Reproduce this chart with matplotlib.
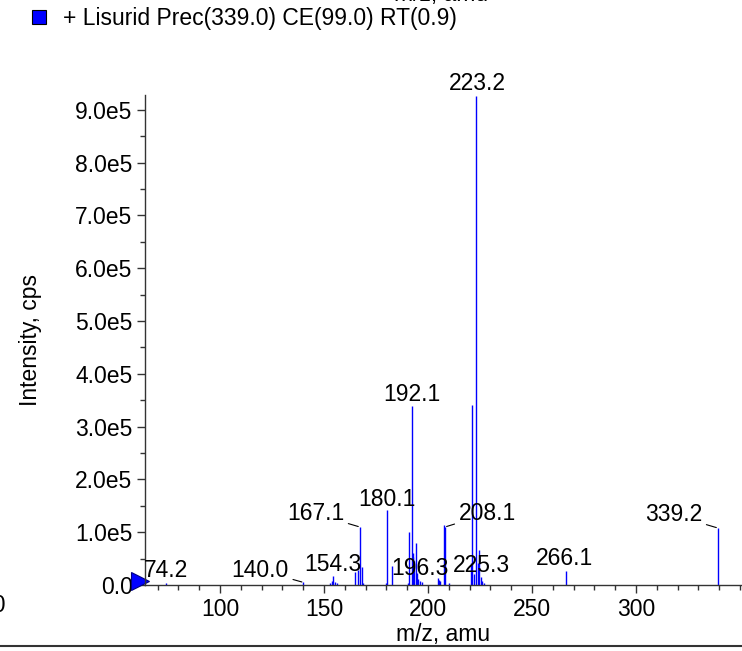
import numpy as np
import matplotlib
matplotlib.use('Agg')
import matplotlib.pyplot as plt
from matplotlib.ticker import MultipleLocator, FixedLocator, FuncFormatter

plt.rcParams['font.family'] = ['Liberation Sans', 'DejaVu Sans']

# peak list (m/z, intensity in cps)
mz = [74.2, 140.0, 152.9, 153.7, 154.3, 155.1, 156.0,
      164.9, 166.2, 167.1, 168.1, 168.8,
      179.6, 180.1, 182.5,
      190.2, 191.0, 192.1, 192.6, 193.0, 193.5, 194.1, 194.6, 195.3, 196.3, 197.1,
      204.9, 205.4, 206.0, 207.7, 208.3, 209.9,
      220.5, 221.3, 222.0, 223.2, 224.0, 224.7, 225.5, 226.2, 227.0,
      266.2, 339.3]
intensity = [4e3, 5e3, 3e3, 8e3, 1.7e4, 5e3, 3e3,
             2.5e4, 2.8e4, 1.1e5, 3.4e4, 4e3,
             4e3, 1.42e5, 3.6e4,
             3e3, 1.0e5, 3.39e5, 6.0e4, 5.3e4, 4.5e4, 7.9e4, 2.2e4, 1.2e4, 8e3, 5e3,
             1.3e4, 1.0e4, 8e3, 1.13e5, 1.1e5, 4e3,
             4.1e4, 3.41e5, 2.0e4, 9.26e5, 4.2e4, 6.6e4, 1.5e4, 8e3, 4e3,
             2.7e4, 1.08e5]

# labelled peaks, text offset in px from the peak top, leader line or not
labels = ['223.2', '192.1', '180.1', '167.1', '208.1', '339.2',
          '266.1', '225.3', '196.3', '154.3', '140.0', '74.2']
label_mz = [223.2, 192.1, 180.1, 167.1, 208.3, 339.3,
            266.2, 225.5, 196.3, 154.3, 140.0, 74.2]
label_int = [9.26e5, 3.39e5, 1.42e5, 1.1e5, 1.1e5, 1.08e5,
             2.7e4, 1.5e4, 8e3, 1.7e4, 5e3, 4e3]
label_dx = [1, 0, 0, -44, 42, -44, -1, 0, 0, 0, -43, 0]
label_dy = [13, 12, 11, 13, 13, 13, 12, 12, 12, 12, 12, 12]
leader = [False, False, False, True, True, True,
          False, False, False, False, True, False]
x_ticks = [100, 150, 200, 250, 300]

W, H = 742, 651
FS = 16.5
fig = plt.figure(figsize=(W / 100, H / 100), dpi=100)
ax = fig.add_axes([145 / W, (H - 585) / H, (W - 145) / W, (585 - 95) / H])

ax.vlines(mz, 0, intensity, color='#0000ff', lw=1.0)

ax.set_xlim(63.9, 351)
ax.set_ylim(0, 9.28e5)

for s in ['top', 'right']:
    ax.spines[s].set_visible(False)
for s in ['left', 'bottom']:
    ax.spines[s].set_linewidth(1.0)
    ax.spines[s].set_color('#333333')

ax.xaxis.set_major_locator(FixedLocator(x_ticks))
ax.xaxis.set_minor_locator(MultipleLocator(10))
ax.yaxis.set_major_locator(MultipleLocator(1e5))
ax.yaxis.set_minor_locator(MultipleLocator(5e4))
ax.yaxis.set_major_formatter(FuncFormatter(lambda v, p: '%.1fe5' % (v / 1e5) if v > 0 else '0.0'))
ax.tick_params(axis='both', which='major', length=6, width=1, labelsize=FS, color='#333333', pad=3)
ax.tick_params(axis='both', which='minor', length=3.5, width=1, color='#333333')

ax.set_xlabel('m/z, amu', fontsize=FS, labelpad=2)
ax.set_ylabel('Intensity, cps', fontsize=FS, labelpad=24)

for lab, x, y, dx, dy, ld in zip(labels, label_mz, label_int, label_dx, label_dy, leader):
    props = dict(arrowstyle='-', color='black', lw=0.8, shrinkA=1, shrinkB=1) if ld else None
    ax.annotate(lab, xy=(x, y), xytext=(dx, dy), textcoords='offset pixels',
                ha='center', va='center', fontsize=FS, arrowprops=props,
                annotation_clip=False)

# blue start marker at the origin
ax.plot([-0.009], [0.008], marker='>', ms=13, color='#0000ff', mec='#000080', mew=0.8,
        transform=ax.transAxes, clip_on=False)

# legend line
fig.patches.append(plt.Rectangle((32 / W, 1 - 24 / H), 14 / W, 14 / H, transform=fig.transFigure,
                                 facecolor='#0000ff', edgecolor='black', lw=0.8))
fig.text(63 / W, 1 - 18 / H, '+ Lisurid Prec(339.0) CE(99.0) RT(0.9)', fontsize=FS, va='center')

# pieces of the neighbouring panels
fig.text(441 / W, 1 + 5 / H, 'm/z, amu', fontsize=FS, ha='center', va='center')
fig.text(6 / W, 1 - 606 / H, '50', fontsize=FS, ha='right', va='center')
fig.add_artist(plt.Line2D([0, 1], [1 - 646 / H, 1 - 646 / H], transform=fig.transFigure,
                          color='#333333', lw=1.5))

fig.savefig('out.png', dpi=100)
